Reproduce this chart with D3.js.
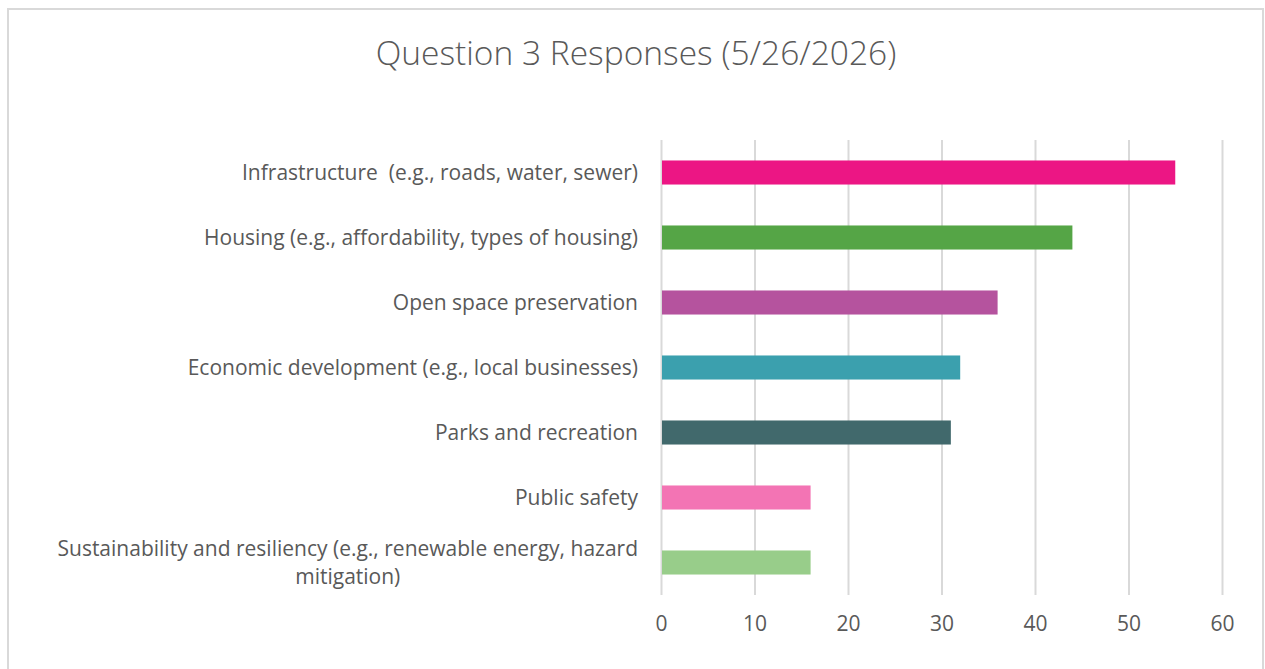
<!DOCTYPE html>
<html>
<head>
<meta charset="utf-8">
<script src="https://cdn.jsdelivr.net/npm/d3@7"></script>
<style>
  body { margin: 0; background: #fff; }
  text { font-family: "Open Sans", sans-serif; fill: #595959; }
</style>
</head>
<body>
<div id="chart"></div>
<script>
// chart data
let categories = [
  'Infrastructure  (e.g., roads, water, sewer)',
  'Housing (e.g., affordability, types of housing)',
  'Open space preservation',
  'Economic development (e.g., local businesses)',
  'Parks and recreation',
  'Public safety',
  'Sustainability and resiliency (e.g., renewable energy, hazard|mitigation)'
];
let responses = [55, 44, 36, 32, 31, 16, 16];
let barColors = ['#ec1684', '#55a546', '#b5539e', '#3ba0ae', '#41696c', '#f374b4', '#98cd8a'];
let xTicks = [0, 10, 20, 30, 40, 50, 60];
let chartTitle = 'Question 3 Responses (5/26/2026)';

let svgWidth = 1265;
let svgHeight = 669;

let chartMargin = { top: 140, right: 43, bottom: 74, left: 661 };
let chartWidth = svgWidth - chartMargin.left - chartMargin.right;
let chartHeight = svgHeight - chartMargin.top - chartMargin.bottom;

let svg = d3.select('#chart')
            .append('svg')
            .attr('width', svgWidth)
            .attr('height', svgHeight);

// outer frame
svg.append('rect')
   .attr('x', 8).attr('y', 9)
   .attr('width', 1255).attr('height', 680)
   .attr('fill', '#fff')
   .attr('stroke', '#d9d9d9')
   .attr('stroke-width', 2);

svg.append('text')
   .attr('x', 636)
   .attr('y', 65)
   .attr('text-anchor', 'middle')
   .style('font-size', '33.5px')
   .style('font-weight', 300)
   .text(chartTitle);

let chartGroup = svg.append('g')
                    .attr('transform', `translate(${chartMargin.left}, ${chartMargin.top})`);

let xScale = d3.scaleLinear()
               .domain([0, 60])
               .range([0, chartWidth]);

let yScale = d3.scaleBand()
               .domain(categories)
               .range([0, chartHeight])
               .paddingInner(0.63)
               .paddingOuter(0.315);

// gridlines + tick labels
let xAxis = d3.axisBottom(xScale)
              .tickValues(xTicks)
              .tickSize(-chartHeight)
              .tickPadding(21);

let xg = chartGroup.append('g')
          .attr('transform', `translate(0, ${chartHeight})`)
          .call(xAxis);
xg.select('.domain').remove();
xg.selectAll('line').attr('stroke', '#d9d9d9').attr('stroke-width', 2);
xg.selectAll('text')
  .style('font-family', '"Open Sans", sans-serif')
  .style('font-size', '21px')
  .attr('fill', '#595959');

// bars
chartGroup.selectAll('.bar')
          .data(responses)
          .enter()
          .append('rect')
          .attr('class', 'bar')
          .attr('x', xScale(0) + 1)
          .attr('y', (d, i) => yScale(categories[i]))
          .attr('width', d => xScale(d) - xScale(0) - 1)
          .attr('height', yScale.bandwidth())
          .attr('fill', (d, i) => barColors[i]);

// category labels
let labels = chartGroup.selectAll('.catLabel')
          .data(categories)
          .enter()
          .append('text')
          .attr('class', 'catLabel')
          .attr('text-anchor', 'end')
          .style('font-size', '21px')
          .style('white-space', 'pre')
          .attr('x', -23)
          .attr('y', d => yScale(d) + yScale.bandwidth() / 2 + 7.5);

labels.each(function(d) {
  let parts = d.split('|');
  let t = d3.select(this);
  if (parts.length === 1) {
    t.text(d);
    return;
  }
  t.attr('y', null);
  let cy = yScale(d) + yScale.bandwidth() / 2;
  let first = t.append('tspan').attr('x', -23).attr('y', cy - 7).text(parts[0]);
  let w = first.node().getComputedTextLength();
  t.append('tspan')
   .attr('x', -23 - w / 2)
   .attr('y', cy + 21)
   .attr('text-anchor', 'middle')
   .text(parts[1]);
});
</script>
</body>
</html>
